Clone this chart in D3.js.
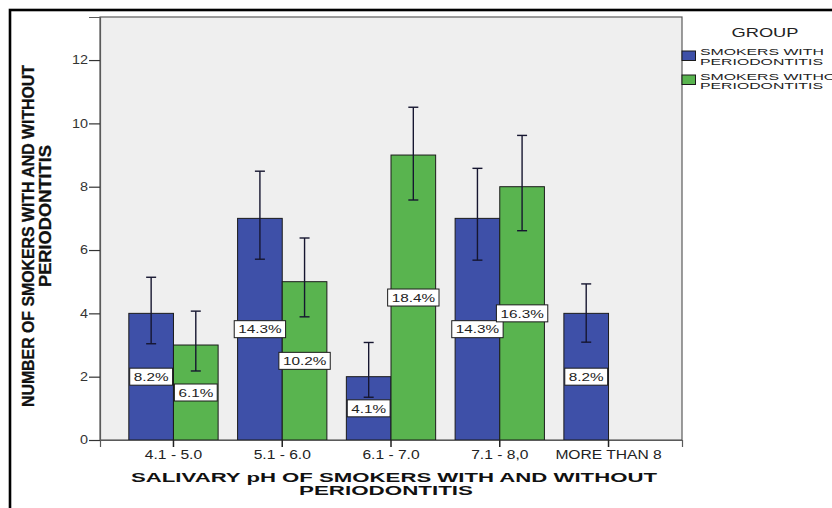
<!DOCTYPE html>
<html>
<head>
<meta charset="utf-8">
<script src="https://cdn.jsdelivr.net/npm/d3@7"></script>
<style>
  html, body { margin: 0; padding: 0; background: #fff; }
  svg { display: block; font-family: "Liberation Sans", Arial, Helvetica, sans-serif; }
</style>
</head>
<body>
<svg id="chart" width="832" height="508"></svg>
<script>
// ---------- data ----------
const categories = ["4.1 - 5.0", "5.1 - 6.0", "6.1 - 7.0", "7.1 - 8,0", "MORE THAN 8"];
const groups = ["SMOKERS WITH PERIODONTITIS", "SMOKERS WITHOUT PERIODONTITIS"];
const withPerio = [4, 7, 2, 7, 4];
const withoutPerio = [3, 5, 9, 8, null];
const withPerioLow = [3.04, 5.71, 1.35, 5.68, 3.09];
const withPerioHigh = [5.14, 8.49, 3.08, 8.58, 4.93];
const withoutPerioLow = [2.18, 3.89, 7.58, 6.61, null];
const withoutPerioHigh = [4.07, 6.38, 10.51, 9.62, null];
const withPerioPct = ["8.2%", "14.3%", "4.1%", "14.3%", "8.2%"];
const withoutPerioPct = ["6.1%", "10.2%", "18.4%", "16.3%", null];
const yTicks = [0, 2, 4, 6, 8, 10, 12];
const legendTitle = "GROUP";
const legendLines = [["SMOKERS WITH", "PERIODONTITIS"], ["SMOKERS WITHOUT", "PERIODONTITIS"]];
const xTitle = ["SALIVARY pH OF SMOKERS WITH AND WITHOUT", "PERIODONTITIS"];
const yTitle = ["NUMBER OF SMOKERS WITH AND WITHOUT", "PERIODONTITIS"];

// ---------- layout ----------
const colors = ["#3e50a8", "#59b44f"];
const plot = { left: 100, right: 682, top: 17, bottom: 440 };
const svg = d3.select("#chart");

const x = d3.scaleBand().domain(categories).range([plot.left, plot.right])
  .paddingInner(0.179).paddingOuter(0.265);
const xg = d3.scaleBand().domain(groups).range([0, x.bandwidth()]);
const y = d3.scaleLinear().domain([0, 13.36]).range([plot.bottom, plot.top]);

// outer frame
svg.append("rect").attr("x", 10).attr("y", 10).attr("width", 900).attr("height", 600)
  .attr("fill", "none").attr("stroke", "#000").attr("stroke-width", 2.6);

// plot background
svg.append("rect").attr("x", plot.left).attr("y", plot.top)
  .attr("width", plot.right - plot.left).attr("height", plot.bottom - plot.top)
  .attr("fill", "#efefef").attr("stroke", "#5a5a5a").attr("stroke-width", 1.2);

// helper: text stretched horizontally by factor sx
function stretchText(sel, sx) {
  sel.each(function () {
    const L = this.getComputedTextLength();
    d3.select(this).attr("textLength", L * sx).attr("lengthAdjust", "spacingAndGlyphs");
  });
  return sel;
}

// rows
const rows = [];
categories.forEach((c, i) => {
  rows.push({ cat: c, g: groups[0], v: withPerio[i], lo: withPerioLow[i], hi: withPerioHigh[i], pct: withPerioPct[i], col: colors[0] });
  if (withoutPerio[i] != null)
    rows.push({ cat: c, g: groups[1], v: withoutPerio[i], lo: withoutPerioLow[i], hi: withoutPerioHigh[i], pct: withoutPerioPct[i], col: colors[1] });
});

// bars
svg.append("g").selectAll("rect").data(rows).join("rect")
  .attr("x", d => x(d.cat) + xg(d.g))
  .attr("y", d => y(d.v))
  .attr("width", xg.bandwidth())
  .attr("height", d => y(0) - y(d.v))
  .attr("fill", d => d.col)
  .attr("stroke", "#1b1b1b").attr("stroke-width", 1);

// x axis line and ticks
const xAxis = svg.append("g").attr("transform", `translate(0,${plot.bottom})`)
  .call(d3.axisBottom(x).tickSize(7).tickPadding(3));
xAxis.select(".domain").attr("stroke", "#5a5a5a").attr("stroke-width", 1.2);
xAxis.selectAll(".tick line").attr("stroke", "#222").attr("stroke-width", 1.5);
xAxis.selectAll(".tick text").attr("font-size", 12).attr("fill", "#222")
  .attr("font-family", "'Liberation Sans', Arial, sans-serif")
  .attr("y", 18.5).attr("dy", null);
stretchText(xAxis.selectAll(".tick text"), 1.3);

// y axis
const yAxis = svg.append("g").attr("transform", `translate(${plot.left},0)`)
  .call(d3.axisLeft(y).tickValues(yTicks).tickSize(11).tickPadding(1).tickFormat(d3.format("d")));
yAxis.select(".domain").attr("stroke", "#5a5a5a").attr("stroke-width", 1.2);
yAxis.selectAll(".tick line").attr("stroke", "#333").attr("stroke-width", 1.2);
yAxis.selectAll(".tick text").attr("font-size", 12).attr("fill", "#333")
  .attr("font-family", "'Liberation Sans', Arial, sans-serif");
stretchText(yAxis.selectAll(".tick text"), 1.2);

// error bars
const eb = svg.append("g").attr("stroke", "#161630").attr("stroke-width", 1.4).attr("fill", "none");
const cx = d => x(d.cat) + xg(d.g) + xg.bandwidth() / 2;
eb.selectAll("line.v").data(rows).join("line").attr("class", "v")
  .attr("x1", cx).attr("x2", cx).attr("y1", d => y(d.lo)).attr("y2", d => y(d.hi));
eb.selectAll("line.t").data(rows).join("line").attr("class", "t")
  .attr("x1", d => cx(d) - 5).attr("x2", d => cx(d) + 5).attr("y1", d => y(d.hi)).attr("y2", d => y(d.hi));
eb.selectAll("line.b").data(rows).join("line").attr("class", "b")
  .attr("x1", d => cx(d) - 5).attr("x2", d => cx(d) + 5).attr("y1", d => y(d.lo)).attr("y2", d => y(d.lo));

// percentage labels
const lab = svg.append("g").selectAll("g").data(rows.filter(d => d.pct)).join("g")
  .attr("transform", d => `translate(${cx(d)},${y(d.v / 2)})`);
lab.append("rect").attr("fill", "#fff").attr("stroke", "#1b1b1b").attr("stroke-width", 1);
const ltxt = lab.append("text").text(d => d.pct).attr("text-anchor", "middle")
  .attr("font-size", 11.5).attr("y", 4.2).attr("fill", "#222");
stretchText(ltxt, 1.33);
lab.each(function () {
  const t = d3.select(this).select("text");
  const w = +t.attr("textLength") + 8;
  d3.select(this).select("rect").attr("x", -w / 2).attr("y", -8.5).attr("width", w).attr("height", 17);
});

// x title
svg.append("text").text(xTitle[0]).attr("x", 394).attr("y", 481.5)
  .attr("text-anchor", "middle").attr("font-weight", "bold").attr("font-size", 13.5).attr("fill", "#111")
  .attr("textLength", 526).attr("lengthAdjust", "spacingAndGlyphs");
svg.append("text").text(xTitle[1]).attr("x", 386).attr("y", 495)
  .attr("text-anchor", "middle").attr("font-weight", "bold").attr("font-size", 13.5).attr("fill", "#111")
  .attr("textLength", 174).attr("lengthAdjust", "spacingAndGlyphs");

// y title
svg.append("text").text(yTitle[0]).attr("transform", "translate(34,236) rotate(-90)")
  .attr("text-anchor", "middle").attr("font-weight", "bold").attr("font-size", 16).attr("fill", "#111")
  .attr("stroke", "#111").attr("stroke-width", 0.3)
  .attr("textLength", 342).attr("lengthAdjust", "spacingAndGlyphs");
svg.append("text").text(yTitle[1]).attr("transform", "translate(50.5,216) rotate(-90)")
  .attr("text-anchor", "middle").attr("font-weight", "bold").attr("font-size", 16).attr("fill", "#111")
  .attr("stroke", "#111").attr("stroke-width", 0.3)
  .attr("textLength", 142).attr("lengthAdjust", "spacingAndGlyphs");

// legend
const lg = svg.append("g");
lg.append("text").text(legendTitle).attr("x", 765).attr("y", 37).attr("text-anchor", "middle")
  .attr("font-size", 13).attr("fill", "#222").attr("textLength", 67).attr("lengthAdjust", "spacingAndGlyphs");
const swY = [51, 75];
const txY = [[55.2, 64.8], [79.8, 89.4]];
groups.forEach((g, i) => {
  lg.append("rect").attr("x", 682).attr("y", swY[i]).attr("width", 13.5).attr("height", 9.5)
    .attr("fill", colors[i]).attr("stroke", "#1b1b1b").attr("stroke-width", 1);
  legendLines[i].forEach((ln, j) => {
    const t = lg.append("text").text(ln).attr("x", 700).attr("y", txY[i][j])
      .attr("font-size", 9.3).attr("fill", "#222");
    stretchText(t, 1.7);
  });
});
</script>
</body>
</html>
